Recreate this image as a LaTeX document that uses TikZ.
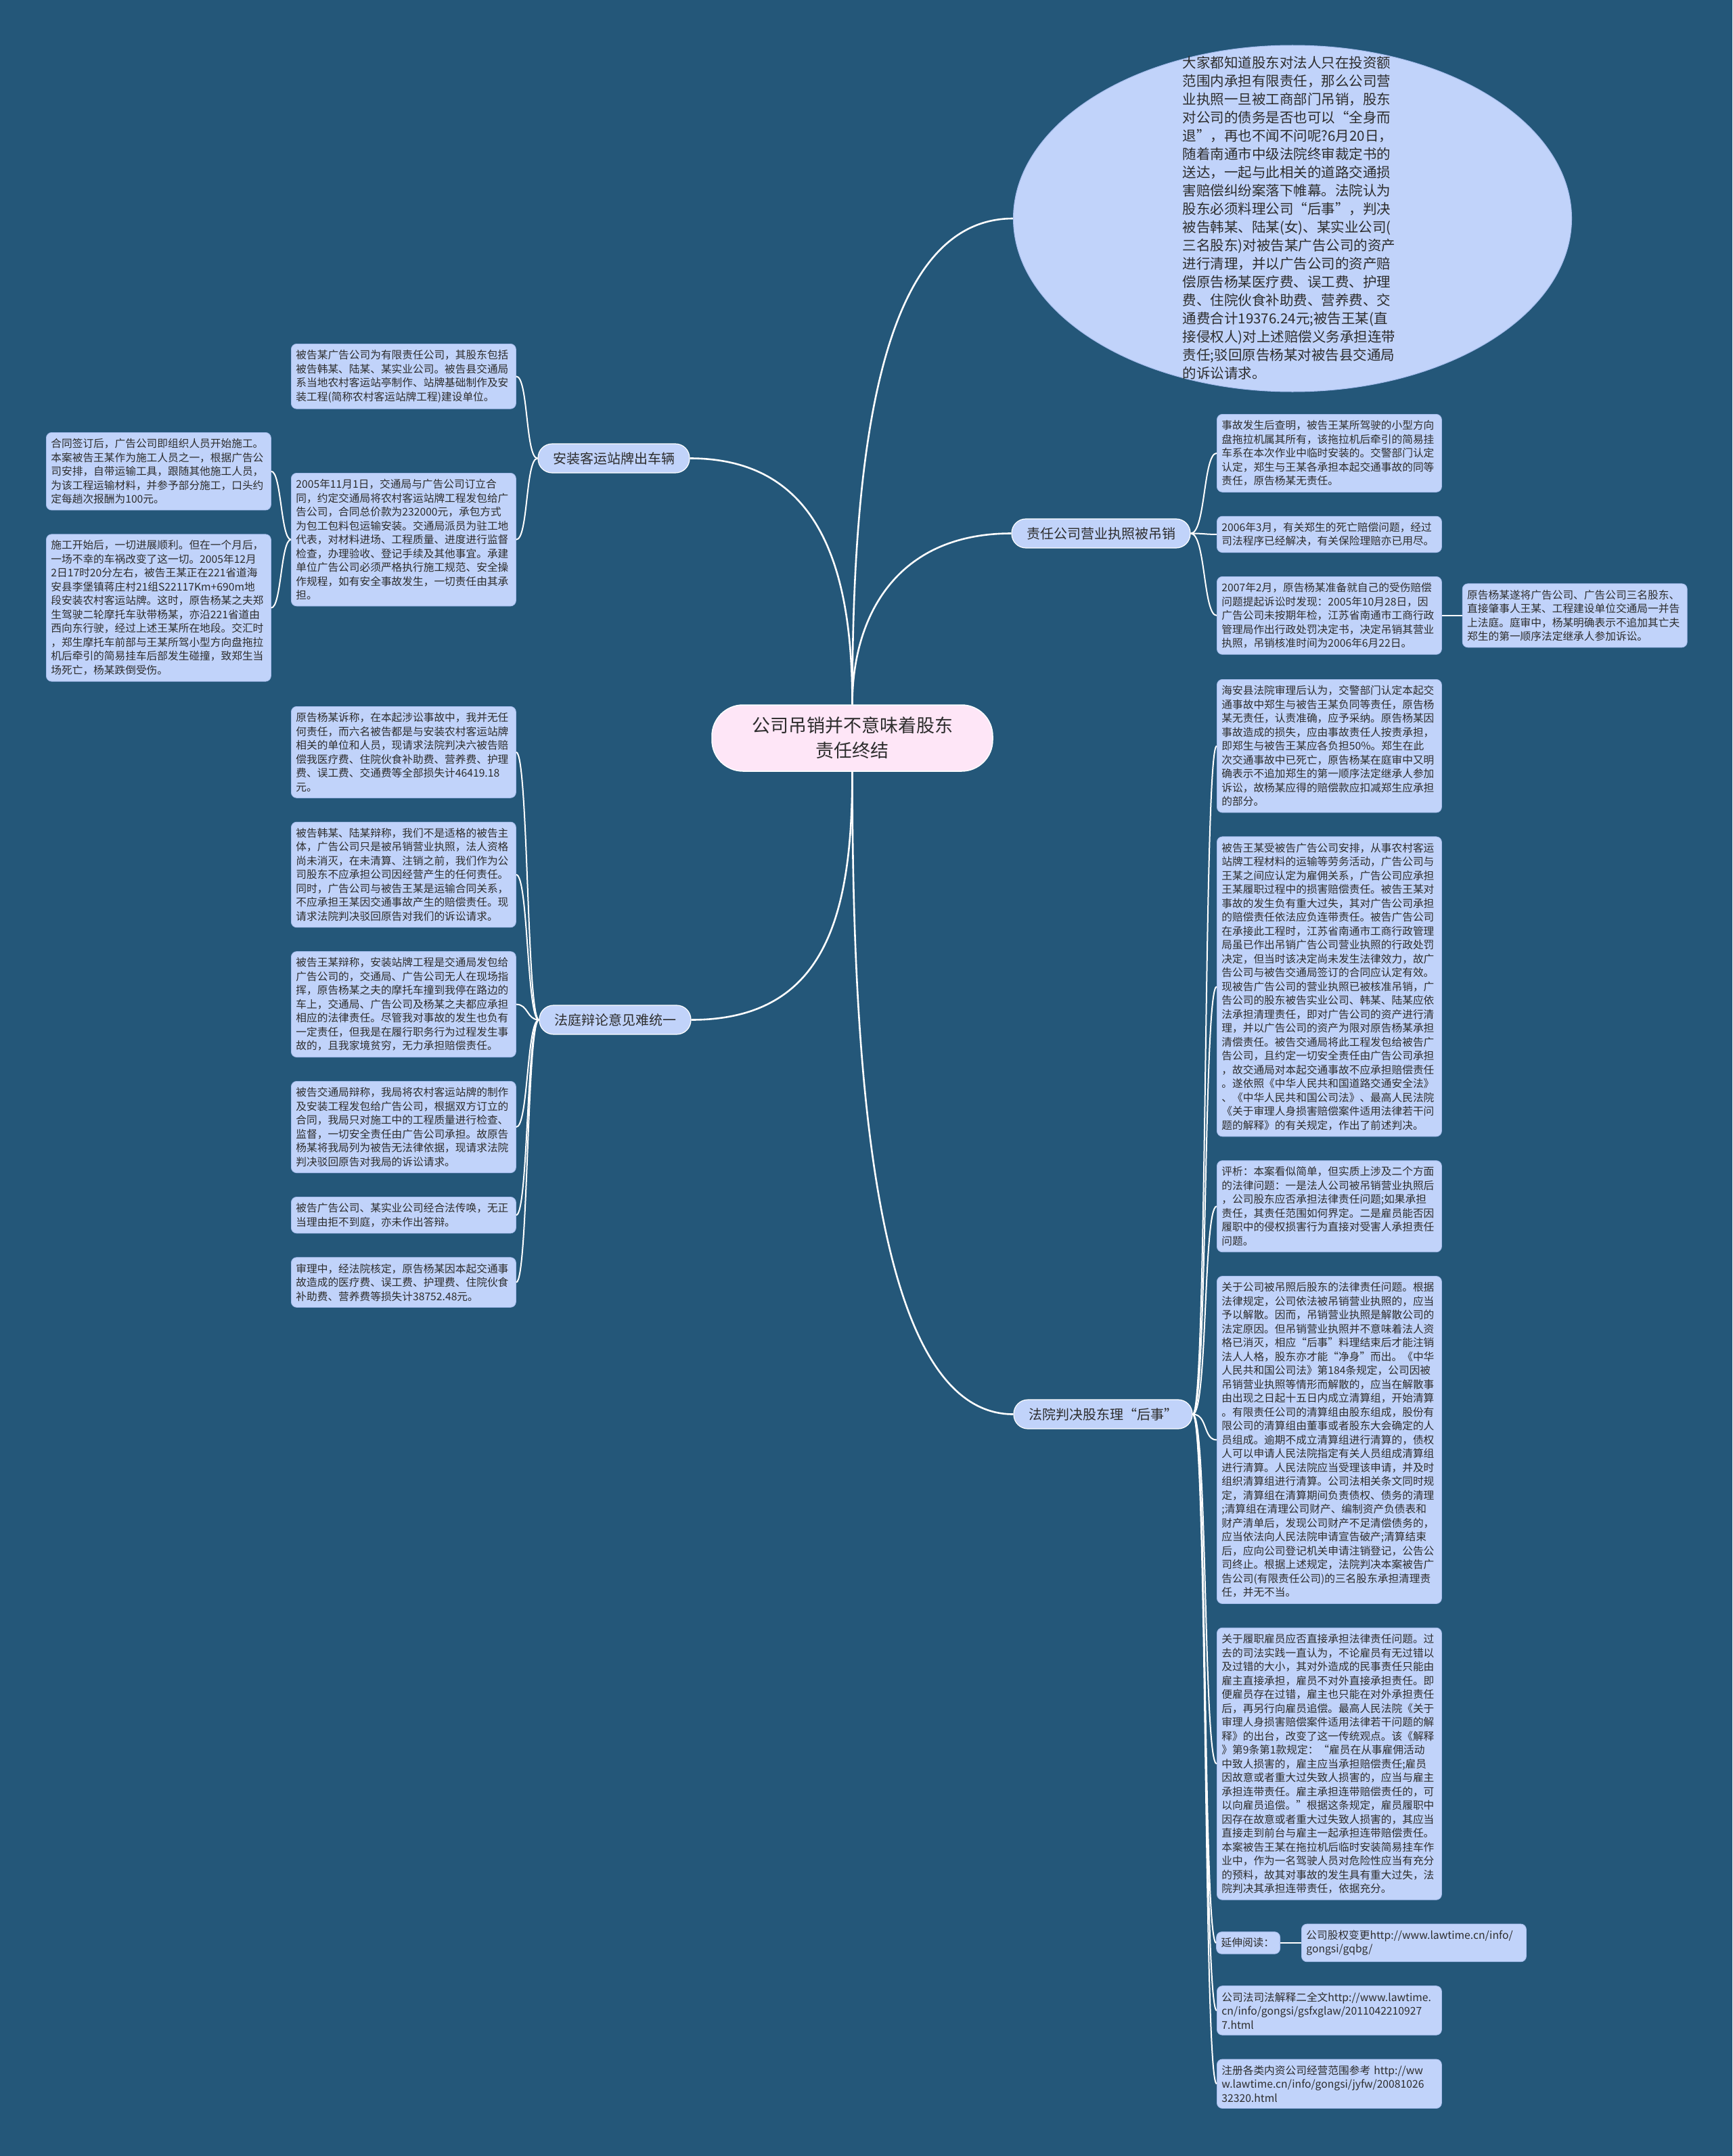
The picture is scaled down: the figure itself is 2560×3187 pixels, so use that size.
\documentclass[tikz,border=0pt]{standalone}
\usepackage{fontspec}
\setmainfont{Noto Sans CJK SC}
\usetikzlibrary{positioning, shapes.geometric}
\setlength{\parindent}{0pt}

\definecolor{bgblue}{RGB}{36,87,121}
\definecolor{leafblue}{RGB}{193,211,250}
\definecolor{leafedge}{RGB}{165,188,236}
\definecolor{rootpink}{RGB}{254,230,247}
\definecolor{inkgray}{RGB}{45,45,45}

\begin{document}
\begin{tikzpicture}[
    x=1pt, y=-1pt,
    node distance=35pt,
    leaf/.style={
        draw=leafedge, line width=0.8pt, fill=leafblue, rounded corners=8pt,
        text=inkgray, font=\fontsize{15.7}{20.5}\selectfont,
        text width=318pt, align=left, inner xsep=7pt, inner ysep=9pt
    },
    branch/.style={
        draw=white, line width=1.2pt, fill=leafblue, rounded corners=21pt,
        minimum height=43pt, text=inkgray, font=\fontsize{20}{24}\selectfont,
        inner xsep=22pt
    },
    link/.style={draw=white, line width=2.6pt},
    twig/.style={draw=white, line width=2pt},
]

% canvas
\fill[bgblue] (0,0) rectangle (2560,3187);

% centre and summary
\node[fill=rootpink, draw=white, line width=1.5pt, rounded corners=46pt,
      minimum width=415pt, minimum height=98pt, align=center, text=inkgray,
      font=\fontsize{27}{37}\selectfont] (root) at (1259.5,1091)
      {公司吊销并不意味着股东\\责任终结};

\node[ellipse, draw=leafedge, line width=1pt, fill=leafblue,
      minimum width=825pt, minimum height=512pt, inner sep=0pt] (intro) at (1910,323) {};
\node[text=inkgray, font=\fontsize{20.5}{27}\selectfont, align=left, inner sep=0pt]
      (introtext) at (1905,322) {大家都知道股东对法人只在投资额\\
范围内承担有限责任，那么公司营\\
业执照一旦被工商部门吊销，股东\\
对公司的债务是否也可以“全身而\\
退”，再也不闻不问呢?6月20日，\\
随着南通市中级法院终审裁定书的\\
送达，一起与此相关的道路交通损\\
害赔偿纠纷案落下帷幕。法院认为\\
股东必须料理公司“后事”，判决\\
被告韩某、陆某(女)、某实业公司(\\
三名股东)对被告某广告公司的资产\\
进行清理，并以广告公司的资产赔\\
偿原告杨某医疗费、误工费、护理\\
费、住院伙食补助费、营养费、交\\
通费合计19376.24元;被告王某(直\\
接侵权人)对上述赔偿义务承担连带\\
责任;驳回原告杨某对被告县交通局\\
的诉讼请求。};

% main branches
\node[branch] (inst) at (907,677.5) {安装客运站牌出车辆};
\node[branch] (debate) at (909,1507.5) {法庭辩论意见难统一};
\node[branch] (resp) at (1627,788.5) {责任公司营业执照被吊销};
\node[branch] (verdict) at (1630,2090.5) {法院判决股东理“后事”};

% left upper: the project
\node[leaf, anchor=north west] (holders) at (430,508) {被告某广告公司为有限责任公司，其股东包括\\
被告韩某、陆某、某实业公司。被告县交通局\\
系当地农村客运站亭制作、站牌基础制作及安\\
装工程(简称农村客运站牌工程)建设单位。};
\node[leaf, anchor=north west] (contract) at (430,699) {2005年11月1日，交通局与广告公司订立合\\
同，约定交通局将农村客运站牌工程发包给广\\
告公司，合同总价款为232000元，承包方式\\
为包工包料包运输安装。交通局派员为驻工地\\
代表，对材料进场、工程质量、进度进行监督\\
检查，办理验收、登记手续及其他事宜。承建\\
单位广告公司必须严格执行施工规范、安全操\\
作规程，如有安全事故发生，一切责任由其承\\
担。};
\node[leaf, anchor=north west] (builders) at (68,639) {合同签订后，广告公司即组织人员开始施工。\\
本案被告王某作为施工人员之一，根据广告公\\
司安排，自带运输工具，跟随其他施工人员，\\
为该工程运输材料，并参予部分施工，口头约\\
定每趟次报酬为100元。};
\node[leaf, below=of builders] (crash) {施工开始后，一切进展顺利。但在一个月后，\\
一场不幸的车祸改变了这一切。2005年12月\\
2日17时20分左右，被告王某正在221省道海\\
安县李堡镇蒋庄村21组S22117Km+690m地\\
段安装农村客运站牌。这时，原告杨某之夫郑\\
生驾驶二轮摩托车驮带杨某，亦沿221省道由\\
西向东行驶，经过上述王某所在地段。交汇时\\
，郑生摩托车前部与王某所驾小型方向盘拖拉\\
机后牵引的简易挂车后部发生碰撞，致郑生当\\
场死亡，杨某跌倒受伤。};

% left lower: the pleadings
\node[leaf, anchor=north west] (claim) at (430,1044) {原告杨某诉称，在本起涉讼事故中，我并无任\\
何责任，而六名被告都是与安装农村客运站牌\\
相关的单位和人员，现请求法院判决六被告赔\\
偿我医疗费、住院伙食补助费、营养费、护理\\
费、误工费、交通费等全部损失计46419.18\\
元。};
\node[leaf, below=of claim] (hanlu) {被告韩某、陆某辩称，我们不是适格的被告主\\
体，广告公司只是被吊销营业执照，法人资格\\
尚未消灭，在未清算、注销之前，我们作为公\\
司股东不应承担公司因经营产生的任何责任。\\
同时，广告公司与被告王某是运输合同关系，\\
不应承担王某因交通事故产生的赔偿责任。现\\
请求法院判决驳回原告对我们的诉讼请求。};
\node[leaf, below=of hanlu] (wang) {被告王某辩称，安装站牌工程是交通局发包给\\
广告公司的，交通局、广告公司无人在现场指\\
挥，原告杨某之夫的摩托车撞到我停在路边的\\
车上，交通局、广告公司及杨某之夫都应承担\\
相应的法律责任。尽管我对事故的发生也负有\\
一定责任，但我是在履行职务行为过程发生事\\
故的，且我家境贫穷，无力承担赔偿责任。};
\node[leaf, below=of wang] (bureau) {被告交通局辩称，我局将农村客运站牌的制作\\
及安装工程发包给广告公司，根据双方订立的\\
合同，我局只对施工中的工程质量进行检查、\\
监督，一切安全责任由广告公司承担。故原告\\
杨某将我局列为被告无法律依据，现请求法院\\
判决驳回原告对我局的诉讼请求。};
\node[leaf, below=of bureau] (absent) {被告广告公司、某实业公司经合法传唤，无正\\
当理由拒不到庭，亦未作出答辩。};
\node[leaf, below=of absent] (losses) {审理中，经法院核定，原告杨某因本起交通事\\
故造成的医疗费、误工费、护理费、住院伙食\\
补助费、营养费等损失计38752.48元。};

% right upper: the revoked licence
\node[leaf, anchor=north west] (finding) at (1798,612) {事故发生后查明，被告王某所驾驶的小型方向\\
盘拖拉机属其所有，该拖拉机后牵引的简易挂\\
车系在本次作业中临时安装的。交警部门认定\\
认定，郑生与王某各承担本起交通事故的同等\\
责任，原告杨某无责任。};
\node[leaf, below=of finding] (settled) {2006年3月，有关郑生的死亡赔偿问题，经过\\
司法程序已经解决，有关保险理赔亦已用尽。};
\node[leaf, below=of settled] (revoked) {2007年2月，原告杨某准备就自己的受伤赔偿\\
问题提起诉讼时发现：2005年10月28日，因\\
广告公司未按期年检，江苏省南通市工商行政\\
管理局作出行政处罚决定书，决定吊销其营业\\
执照，吊销核准时间为2006年6月22日。};
\node[leaf, right=30pt of revoked] (lawsuit) {原告杨某遂将广告公司、广告公司三名股东、\\
直接肇事人王某、工程建设单位交通局一并告\\
上法庭。庭审中，杨某明确表示不追加其亡夫\\
郑生的第一顺序法定继承人参加诉讼。};

% right lower: the judgment and comments
\node[leaf, anchor=north west] (court) at (1798,1004) {海安县法院审理后认为，交警部门认定本起交\\
通事故中郑生与被告王某负同等责任，原告杨\\
某无责任，认责准确，应予采纳。原告杨某因\\
事故造成的损失，应由事故责任人按责承担，\\
即郑生与被告王某应各负担50\%。郑生在此\\
次交通事故中已死亡，原告杨某在庭审中又明\\
确表示不追加郑生的第一顺序法定继承人参加\\
诉讼，故杨某应得的赔偿款应扣减郑生应承担\\
的部分。};
\node[leaf, below=of court] (employ) {被告王某受被告广告公司安排，从事农村客运\\
站牌工程材料的运输等劳务活动，广告公司与\\
王某之间应认定为雇佣关系，广告公司应承担\\
王某履职过程中的损害赔偿责任。被告王某对\\
事故的发生负有重大过失，其对广告公司承担\\
的赔偿责任依法应负连带责任。被告广告公司\\
在承接此工程时，江苏省南通市工商行政管理\\
局虽已作出吊销广告公司营业执照的行政处罚\\
决定，但当时该决定尚未发生法律效力，故广\\
告公司与被告交通局签订的合同应认定有效。\\
现被告广告公司的营业执照已被核准吊销，广\\
告公司的股东被告实业公司、韩某、陆某应依\\
法承担清理责任，即对广告公司的资产进行清\\
理，并以广告公司的资产为限对原告杨某承担\\
清偿责任。被告交通局将此工程发包给被告广\\
告公司，且约定一切安全责任由广告公司承担\\
，故交通局对本起交通事故不应承担赔偿责任\\
。遂依照《中华人民共和国道路交通安全法》\\
、《中华人民共和国公司法》、最高人民法院\\
《关于审理人身损害赔偿案件适用法律若干问\\
题的解释》的有关规定，作出了前述判决。};
\node[leaf, below=of employ] (review) {评析：本案看似简单，但实质上涉及二个方面\\
的法律问题：一是法人公司被吊销营业执照后\\
，公司股东应否承担法律责任问题;如果承担\\
责任，其责任范围如何界定。二是雇员能否因\\
履职中的侵权损害行为直接对受害人承担责任\\
问题。};
\node[leaf, below=of review] (liquid) {关于公司被吊照后股东的法律责任问题。根据\\
法律规定，公司依法被吊销营业执照的，应当\\
予以解散。因而，吊销营业执照是解散公司的\\
法定原因。但吊销营业执照并不意味着法人资\\
格已消灭，相应“后事”料理结束后才能注销\\
法人人格，股东亦才能“净身”而出。《中华\\
人民共和国公司法》第184条规定，公司因被\\
吊销营业执照等情形而解散的，应当在解散事\\
由出现之日起十五日内成立清算组，开始清算\\
。有限责任公司的清算组由股东组成，股份有\\
限公司的清算组由董事或者股东大会确定的人\\
员组成。逾期不成立清算组进行清算的，债权\\
人可以申请人民法院指定有关人员组成清算组\\
进行清算。人民法院应当受理该申请，并及时\\
组织清算组进行清算。公司法相关条文同时规\\
定，清算组在清算期间负责债权、债务的清理\\
;清算组在清理公司财产、编制资产负债表和\\
财产清单后，发现公司财产不足清偿债务的，\\
应当依法向人民法院申请宣告破产;清算结束\\
后，应向公司登记机关申请注销登记，公告公\\
司终止。根据上述规定，法院判决本案被告广\\
告公司(有限责任公司)的三名股东承担清理责\\
任，并无不当。};
\node[leaf, below=of liquid] (employee) {关于履职雇员应否直接承担法律责任问题。过\\
去的司法实践一直认为，不论雇员有无过错以\\
及过错的大小，其对外造成的民事责任只能由\\
雇主直接承担，雇员不对外直接承担责任。即\\
便雇员存在过错，雇主也只能在对外承担责任\\
后，再另行向雇员追偿。最高人民法院《关于\\
审理人身损害赔偿案件适用法律若干问题的解\\
释》的出台，改变了这一传统观点。该《解释\\
》第9条第1款规定：“雇员在从事雇佣活动\\
中致人损害的，雇主应当承担赔偿责任;雇员\\
因故意或者重大过失致人损害的，应当与雇主\\
承担连带责任。雇主承担连带赔偿责任的，可\\
以向雇员追偿。”根据这条规定，雇员履职中\\
因存在故意或者重大过失致人损害的，其应当\\
直接走到前台与雇主一起承担连带赔偿责任。\\
本案被告王某在拖拉机后临时安装简易挂车作\\
业中，作为一名驾驶人员对危险性应当有充分\\
的预料，故其对事故的发生具有重大过失，法\\
院判决其承担连带责任，依据充分。};

% further reading
\node[leaf, below right=35pt and 125pt of employee.south west] (link1) {公司股权变更http://www.lawtime.cn/info/\\
gongsi/gqbg/};
\node[leaf, text width=80pt, left=31pt of link1] (further) {延伸阅读：};
\coordinate (linkgap) at ([yshift=-35pt]link1.south);
\node[leaf, anchor=north west] (link2) at (linkgap -| employee.west) {公司法司法解释二全文http://www.lawtime.\\
cn/info/gongsi/gsfxglaw/2011042210927\\
7.html};
\node[leaf, below=of link2] (link3) {注册各类内资公司经营范围参考 http://ww\\
w.lawtime.cn/info/gongsi/jyfw/20081026\\
32320.html};

% centre to branches
\draw[link] (root.north) .. controls +(0,-360) and +(-200,0) .. (intro.west);
\draw[link] (root.north) .. controls +(0,-130) and +(-170,0) .. (resp.west);
\draw[link] (root.north) .. controls +(0,-185) and +(200,0) .. (inst.east);
\draw[link] (root.south) .. controls +(0,210) and +(200,0) .. (debate.east);
\draw[link] (root.south) .. controls +(0,475) and +(-200,0) .. (verdict.west);

% branches to leaves
\foreach \leafname in {holders, contract}
    \draw[twig] (inst.west) .. controls +(-18,0) and +(18,0) .. (\leafname.east);
\foreach \leafname in {builders, crash}
    \draw[twig] (contract.west) .. controls +(-15,0) and +(15,0) .. (\leafname.east);
\foreach \leafname in {claim, hanlu, wang, bureau, absent, losses}
    \draw[twig] (debate.west) .. controls +(-18,0) and +(18,0) .. (\leafname.east);
\foreach \leafname in {finding, settled, revoked}
    \draw[twig] (resp.east) .. controls +(22,0) and +(-20,0) .. (\leafname.west);
\draw[twig] (revoked.east) -- (lawsuit.west);
\foreach \leafname in {court, employ, review, liquid, employee, further, link2, link3}
    \draw[twig] (verdict.east) .. controls +(22,0) and +(-20,0) .. (\leafname.west);
\draw[twig] (further.east) -- (link1.west);

\end{tikzpicture}
\end{document}
